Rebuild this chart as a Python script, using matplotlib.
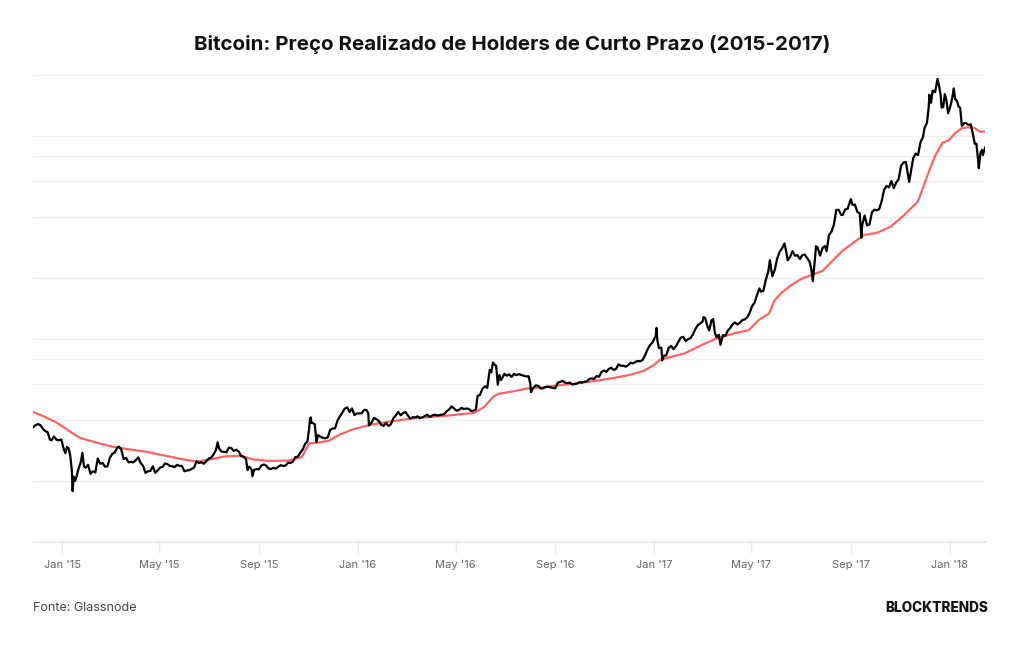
import pandas as pd
import matplotlib
matplotlib.use("Agg")
import matplotlib.pyplot as plt
import matplotlib.dates as mdates

# Bitcoin price (USD)
price_dates = [
    "2014-11-26", "2014-11-29", "2014-12-02", "2014-12-05", "2014-12-08", "2014-12-11", "2014-12-14",
    "2014-12-17", "2014-12-19", "2014-12-22", "2014-12-25", "2014-12-28", "2014-12-31",
    "2015-01-03", "2015-01-05", "2015-01-07", "2015-01-09", "2015-01-11", "2015-01-13", "2015-01-14",
    "2015-01-15", "2015-01-17", "2015-01-19", "2015-01-21", "2015-01-24", "2015-01-26", "2015-01-28",
    "2015-01-30", "2015-02-02", "2015-02-05", "2015-02-08", "2015-02-11", "2015-02-14", "2015-02-17",
    "2015-02-20", "2015-02-23", "2015-02-26", "2015-03-01", "2015-03-04", "2015-03-07", "2015-03-10",
    "2015-03-12", "2015-03-15", "2015-03-18", "2015-03-21", "2015-03-24", "2015-03-27", "2015-03-30",
    "2015-04-02", "2015-04-05", "2015-04-08", "2015-04-11", "2015-04-14", "2015-04-17", "2015-04-20",
    "2015-04-23", "2015-04-26", "2015-04-29", "2015-05-02", "2015-05-05", "2015-05-08", "2015-05-11",
    "2015-05-14", "2015-05-17", "2015-05-20", "2015-05-23", "2015-05-26", "2015-05-29", "2015-06-01",
    "2015-06-04", "2015-06-07", "2015-06-10", "2015-06-13", "2015-06-16", "2015-06-19", "2015-06-22",
    "2015-06-25", "2015-06-28", "2015-07-01", "2015-07-04", "2015-07-07", "2015-07-10", "2015-07-12",
    "2015-07-14", "2015-07-17", "2015-07-20", "2015-07-23", "2015-07-26", "2015-07-29", "2015-08-01",
    "2015-08-04", "2015-08-07", "2015-08-10", "2015-08-13", "2015-08-16", "2015-08-18", "2015-08-20",
    "2015-08-23", "2015-08-24", "2015-08-26", "2015-08-29", "2015-09-01", "2015-09-04", "2015-09-07",
    "2015-09-10", "2015-09-13", "2015-09-16", "2015-09-19", "2015-09-22", "2015-09-25", "2015-09-28",
    "2015-10-01", "2015-10-04", "2015-10-07", "2015-10-10", "2015-10-13", "2015-10-16", "2015-10-19",
    "2015-10-22", "2015-10-25", "2015-10-28", "2015-10-31", "2015-11-02", "2015-11-03", "2015-11-04",
    "2015-11-05", "2015-11-07", "2015-11-09", "2015-11-11", "2015-11-13", "2015-11-16", "2015-11-19",
    "2015-11-22", "2015-11-25", "2015-11-28", "2015-12-01", "2015-12-04", "2015-12-07", "2015-12-10",
    "2015-12-13", "2015-12-16", "2015-12-19", "2015-12-22", "2015-12-25", "2015-12-28", "2015-12-31",
    "2016-01-03", "2016-01-06", "2016-01-09", "2016-01-12", "2016-01-14", "2016-01-15", "2016-01-18",
    "2016-01-21", "2016-01-24", "2016-01-27", "2016-01-30", "2016-02-02", "2016-02-05", "2016-02-08",
    "2016-02-11", "2016-02-14", "2016-02-17", "2016-02-20", "2016-02-23", "2016-02-26", "2016-02-29",
    "2016-03-03", "2016-03-06", "2016-03-09", "2016-03-12", "2016-03-15", "2016-03-18", "2016-03-21",
    "2016-03-24", "2016-03-27", "2016-03-30", "2016-04-02", "2016-04-05", "2016-04-08", "2016-04-11",
    "2016-04-14", "2016-04-17", "2016-04-20", "2016-04-23", "2016-04-26", "2016-04-29", "2016-05-02",
    "2016-05-05", "2016-05-08", "2016-05-11", "2016-05-14", "2016-05-17", "2016-05-20", "2016-05-23",
    "2016-05-26", "2016-05-28", "2016-05-31", "2016-06-03", "2016-06-06", "2016-06-09", "2016-06-12",
    "2016-06-14", "2016-06-16", "2016-06-18", "2016-06-20", "2016-06-22", "2016-06-24", "2016-06-26",
    "2016-06-28", "2016-06-30", "2016-07-03", "2016-07-06", "2016-07-09", "2016-07-12", "2016-07-15",
    "2016-07-18", "2016-07-21", "2016-07-24", "2016-07-27", "2016-07-30", "2016-08-01", "2016-08-02",
    "2016-08-05", "2016-08-08", "2016-08-11", "2016-08-14", "2016-08-17", "2016-08-20", "2016-08-23",
    "2016-08-26", "2016-08-29", "2016-09-01", "2016-09-04", "2016-09-07", "2016-09-10", "2016-09-13",
    "2016-09-16", "2016-09-19", "2016-09-22", "2016-09-25", "2016-09-28", "2016-10-01", "2016-10-04",
    "2016-10-07", "2016-10-10", "2016-10-13", "2016-10-16", "2016-10-19", "2016-10-22", "2016-10-25",
    "2016-10-28", "2016-10-31", "2016-11-03", "2016-11-06", "2016-11-09", "2016-11-12", "2016-11-15",
    "2016-11-18", "2016-11-21", "2016-11-24", "2016-11-27", "2016-11-30", "2016-12-03", "2016-12-06",
    "2016-12-09", "2016-12-12", "2016-12-15", "2016-12-18", "2016-12-21", "2016-12-24", "2016-12-27",
    "2016-12-30", "2017-01-01", "2017-01-03", "2017-01-04", "2017-01-05", "2017-01-07", "2017-01-10",
    "2017-01-11", "2017-01-13", "2017-01-16", "2017-01-19", "2017-01-22", "2017-01-25", "2017-01-28",
    "2017-01-31", "2017-02-03", "2017-02-06", "2017-02-09", "2017-02-12", "2017-02-15", "2017-02-18",
    "2017-02-21", "2017-02-24", "2017-02-27", "2017-03-02", "2017-03-03", "2017-03-05", "2017-03-08",
    "2017-03-10", "2017-03-13", "2017-03-15", "2017-03-17", "2017-03-19", "2017-03-22", "2017-03-24",
    "2017-03-27", "2017-03-30", "2017-04-02", "2017-04-05", "2017-04-08", "2017-04-11", "2017-04-14",
    "2017-04-17", "2017-04-20", "2017-04-23", "2017-04-26", "2017-04-29", "2017-05-02", "2017-05-05",
    "2017-05-08", "2017-05-11", "2017-05-13", "2017-05-16", "2017-05-19", "2017-05-22", "2017-05-24",
    "2017-05-25", "2017-05-27", "2017-05-30", "2017-06-02", "2017-06-05", "2017-06-08", "2017-06-11",
    "2017-06-13", "2017-06-15", "2017-06-18", "2017-06-21", "2017-06-24", "2017-06-27", "2017-06-30",
    "2017-07-03", "2017-07-06", "2017-07-09", "2017-07-12", "2017-07-14", "2017-07-16", "2017-07-18",
    "2017-07-20", "2017-07-22", "2017-07-25", "2017-07-28", "2017-07-31", "2017-08-02", "2017-08-05",
    "2017-08-08", "2017-08-11", "2017-08-14", "2017-08-17", "2017-08-20", "2017-08-22", "2017-08-25",
    "2017-08-28", "2017-09-01", "2017-09-03", "2017-09-06", "2017-09-09", "2017-09-12", "2017-09-14",
    "2017-09-15", "2017-09-18", "2017-09-21", "2017-09-24", "2017-09-27", "2017-09-30", "2017-10-03",
    "2017-10-06", "2017-10-09", "2017-10-12", "2017-10-15", "2017-10-18", "2017-10-21", "2017-10-24",
    "2017-10-27", "2017-10-30", "2017-11-02", "2017-11-05", "2017-11-08", "2017-11-10", "2017-11-12",
    "2017-11-14", "2017-11-17", "2017-11-20", "2017-11-23", "2017-11-26", "2017-11-29", "2017-12-01",
    "2017-12-04", "2017-12-06", "2017-12-07", "2017-12-09", "2017-12-11", "2017-12-14", "2017-12-17",
    "2017-12-19", "2017-12-21", "2017-12-22", "2017-12-24", "2017-12-26", "2017-12-28", "2017-12-30",
    "2018-01-01", "2018-01-04", "2018-01-06", "2018-01-08", "2018-01-10", "2018-01-12", "2018-01-14",
    "2018-01-16", "2018-01-17", "2018-01-19", "2018-01-21", "2018-01-24", "2018-01-27", "2018-01-30",
    "2018-02-01", "2018-02-03", "2018-02-05", "2018-02-06", "2018-02-08", "2018-02-10", "2018-02-11",
    "2018-02-13", "2018-02-14",
]
price_values = [
    367, 376, 381, 377, 362, 352, 348,
    319, 317, 331, 319, 317, 320,
    287, 274, 294, 289, 267, 225, 178,
    210, 200, 211, 228, 247, 275, 236,
    232, 240, 217, 223, 220, 258, 243,
    245, 235, 236, 260, 272, 276, 291,
    295, 286, 256, 260, 247, 248, 247,
    253, 261, 245, 237, 219, 223, 224,
    236, 219, 225, 233, 234, 244, 242,
    237, 236, 234, 240, 237, 237, 223,
    225, 226, 229, 233, 250, 245, 247,
    243, 250, 258, 260, 270, 284, 310,
    288, 279, 278, 277, 292, 290, 281,
    285, 279, 265, 263, 257, 226, 235,
    228, 211, 226, 229, 228, 238, 241,
    238, 230, 229, 232, 230, 235, 239,
    237, 238, 246, 245, 249, 262, 263,
    275, 285, 304, 314, 361, 403, 411,
    386, 385, 380, 311, 336, 330, 326,
    324, 328, 357, 362, 363, 396, 416,
    434, 454, 461, 437, 455, 422, 430,
    430, 431, 448, 446, 431, 375, 387,
    409, 403, 395, 378, 373, 386, 373,
    380, 407, 420, 437, 421, 432, 437,
    420, 405, 412, 411, 416, 408, 411,
    418, 424, 413, 420, 424, 420, 422,
    424, 427, 441, 450, 466, 455, 444,
    447, 458, 452, 455, 453, 442, 444,
    450, 524, 531, 569, 585, 574, 704,
    685, 766, 749, 736, 596, 665, 629,
    647, 674, 660, 670, 651, 673, 664,
    672, 665, 660, 654, 656, 607, 547,
    577, 591, 588, 570, 573, 581, 583,
    578, 575, 572, 610, 614, 623, 610,
    607, 610, 597, 600, 604, 613, 611,
    617, 618, 636, 640, 636, 657, 652,
    688, 700, 689, 712, 722, 705, 712,
    751, 738, 739, 731, 743, 764, 759,
    772, 780, 777, 790, 834, 891, 934,
    961, 998, 1033, 1135, 989, 903, 907,
    785, 827, 831, 904, 925, 891, 922,
    970, 1017, 1025, 977, 999, 1011, 1055,
    1120, 1172, 1193, 1222, 1283, 1273, 1150,
    1104, 1237, 1254, 1075, 1022, 1050, 937,
    1046, 1038, 1099, 1134, 1182, 1207, 1180,
    1205, 1240, 1250, 1281, 1347, 1452, 1508,
    1641, 1776, 1713, 1730, 1961, 2151, 2446,
    2304, 2038, 2192, 2488, 2691, 2795, 2958,
    2719, 2445, 2540, 2711, 2575, 2589, 2480,
    2589, 2608, 2507, 2404, 2234, 1929, 2329,
    2868, 2825, 2576, 2809, 2875, 2710, 3252,
    3379, 3650, 4325, 4331, 4090, 4090, 4352,
    4382, 4892, 4582, 4598, 4226, 4161, 3154,
    3637, 4065, 3630, 3671, 4211, 4338, 4309,
    4370, 4773, 5433, 5684, 5589, 6008, 5539,
    5904, 6131, 7144, 7407, 7460, 6618, 5950,
    6635, 7791, 8200, 8060, 9330, 9888, 10975,
    11657, 13750, 16000, 14600, 16732, 16470, 19140,
    17600, 15800, 13830, 13900, 16100, 15000, 12950,
    13650, 15200, 17170, 15170, 14900, 14000, 13770,
    11240, 11300, 11600, 11600, 11360, 11440, 10100,
    9170, 9170, 7700, 6950, 8270, 8550, 8060,
    8600, 8800,
]

# Short-term holder realized price (USD)
sth_dates = [
    "2014-11-26", "2014-12-10", "2014-12-24", "2015-01-02", "2015-01-14", "2015-01-23", "2015-02-12",
    "2015-03-04", "2015-03-25", "2015-04-14", "2015-05-05", "2015-05-25", "2015-06-15", "2015-07-01",
    "2015-07-20", "2015-08-10", "2015-08-25", "2015-09-14", "2015-10-08", "2015-10-24", "2015-11-02",
    "2015-11-14", "2015-11-27", "2015-12-09", "2015-12-25", "2016-01-15", "2016-02-08", "2016-02-29",
    "2016-03-17", "2016-04-17", "2016-05-24", "2016-06-05", "2016-06-17", "2016-06-22", "2016-07-08",
    "2016-07-29", "2016-08-18", "2016-09-08", "2016-09-28", "2016-10-24", "2016-11-14", "2016-12-05",
    "2016-12-20", "2017-01-01", "2017-01-08", "2017-02-08", "2017-03-01", "2017-03-17", "2017-04-10",
    "2017-04-28", "2017-05-10", "2017-05-23", "2017-05-30", "2017-06-08", "2017-06-20", "2017-07-02",
    "2017-07-28", "2017-08-22", "2017-09-17", "2017-10-03", "2017-10-20", "2017-11-06", "2017-11-23",
    "2017-11-28", "2017-12-07", "2017-12-14", "2017-12-23", "2017-12-31", "2018-01-08", "2018-01-16",
    "2018-01-25", "2018-02-01", "2018-02-08", "2018-02-14",
]
sth_values = [
    437, 415, 390, 370, 343, 326, 309,
    295, 286, 279, 268, 258, 249, 254,
    264, 266, 255, 251, 252, 262, 306,
    309, 316, 337, 358, 377, 391, 402,
    410, 418, 433, 462, 522, 536, 550,
    571, 578, 594, 605, 625, 645, 670,
    700, 745, 790, 851, 935, 999, 1068,
    1106, 1240, 1337, 1555, 1700, 1850, 1980,
    2166, 2730, 3253, 3336, 3574, 4091, 4775,
    5420, 6800, 8000, 9240, 9560, 10350, 10950,
    11050, 10950, 10500, 10550,
]

grid_levels = [100, 200, 400, 600, 800, 1000, 2000, 4000, 6000, 8000, 10000, 20000]
tick_dates = pd.date_range("2015-01-01", "2018-01-01", freq="4MS")

price = pd.Series(price_values, index=pd.to_datetime(price_dates))
sth = pd.Series(sth_values, index=pd.to_datetime(sth_dates))

plt.rcParams["font.family"] = ["Inter", "DejaVu Sans"]

fig = plt.figure(figsize=(10.24, 6.45), dpi=100)
ax = fig.add_axes([0.0322, 0.1597, 0.930, 0.724])

ax.plot(sth.index, sth.values, color="#ff6464", lw=1.6, zorder=3)
ax.plot(price.index, price.values, color="#000000", lw=1.6, zorder=4)

ax.set_yscale("log")
ax.set_ylim(100, 20000)
ax.set_xlim(price.index[0], price.index[-1])
ax.set_yticks(grid_levels)
ax.set_yticks([], minor=True)
ax.set_yticklabels([])
ax.tick_params(axis="y", length=0)
ax.grid(axis="y", color="#efefef", lw=1.0)
ax.set_axisbelow(True)

ax.set_xticks(tick_dates)
ax.xaxis.set_major_formatter(mdates.DateFormatter("%b '%y"))
ax.tick_params(axis="x", length=8, width=1, color="#ececec", labelsize=8,
               labelcolor="#666666", pad=5)

for s in ["top", "right", "left"]:
    ax.spines[s].set_visible(False)
ax.spines["bottom"].set_color("#e6e6e6")
ax.spines["bottom"].set_linewidth(1.2)

fig.text(0.5, 0.931, "Bitcoin: Preço Realizado de Holders de Curto Prazo (2015-2017)",
         ha="center", va="center", fontsize=14.8, fontweight="bold", color="#111111")
fig.text(0.0322, 0.058, "Fonte: Glassnode", ha="left", va="center", fontsize=9, color="#444444")
fig.text(0.965, 0.058, "BLOCKTRENDS", ha="right", va="center", fontsize=9.8,
         fontweight="heavy", color="#111111")

fig.savefig("out.png", dpi=100, facecolor="white")
